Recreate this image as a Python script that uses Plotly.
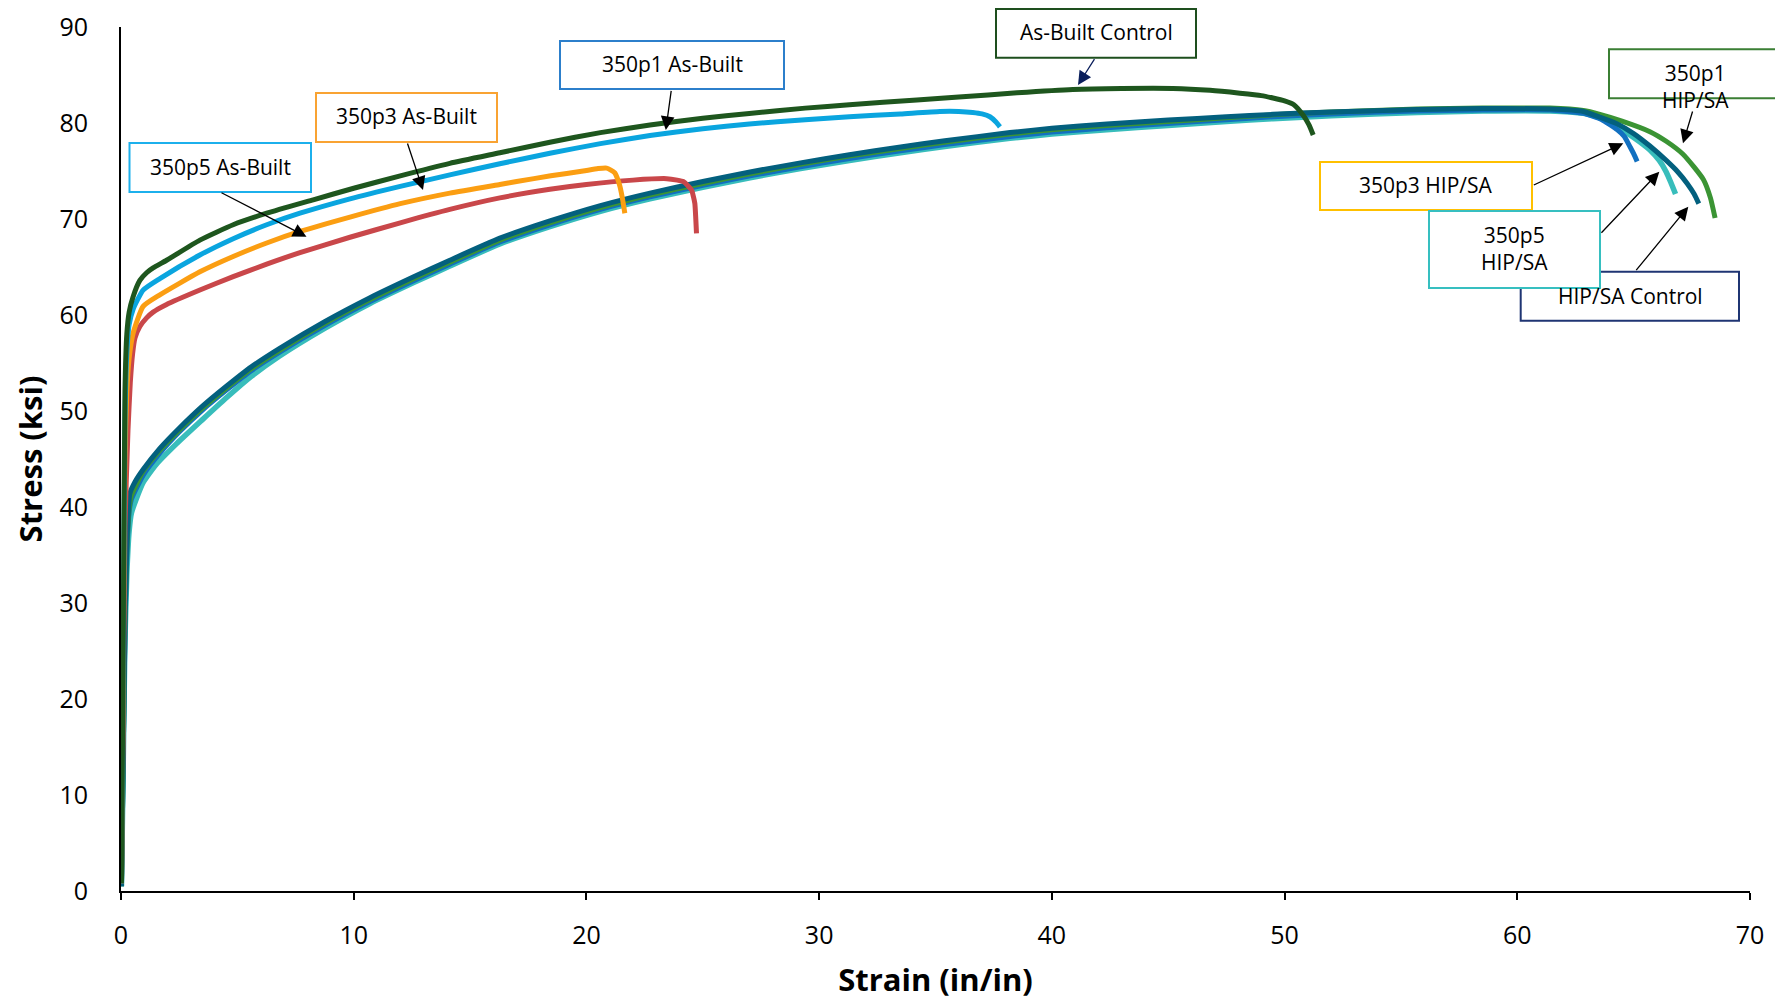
import plotly.graph_objects as go

# ---------------- data (strain in/in x100, stress ksi) ----------------
abc_strain = [0.02, 0.1, 0.17, 0.25, 0.35, 0.52, 0.81, 1.1, 1.38, 1.96, 3.39, 4.82, 6.26, 8.26, 10.0, 12.0,
              14.13, 16.28, 18.43, 20.6, 22.73, 25.0, 27.0, 29.4, 31.3, 34.2, 36.0, 38.5, 40.9, 43.0, 45.2,
              46.8, 48.08, 49.0, 49.5, 50.0, 50.4, 50.8, 51.05, 51.23]
abc_stress = [0.8, 28, 52, 58, 60.3, 61.9, 63.6, 64.4, 64.9, 65.7, 67.8, 69.4, 70.6, 72.0, 73.2, 74.5,
              75.8, 76.9, 78.0, 79.0, 79.8, 80.5, 81.0, 81.55, 81.9, 82.4, 82.7, 83.15, 83.5, 83.6, 83.6,
              83.4, 83.1, 82.85, 82.6, 82.3, 81.9, 80.8, 79.8, 78.75]

p1ab_strain = [0.02, 0.1, 0.17, 0.25, 0.35, 0.52, 0.95, 1.67, 3.39, 4.82, 6.26, 7.69, 9.84, 12.0, 14.13,
               16.28, 18.43, 20.6, 22.73, 25.0, 27.0, 29.4, 31.3, 33.5, 35.19, 36.0, 36.6, 37.0, 37.34,
               37.6, 37.77]
p1ab_stress = [0.8, 26, 49, 56, 59, 60.6, 62.6, 63.8, 66.25, 67.95, 69.4, 70.6, 72.1, 73.4, 74.6,
               75.75, 76.85, 77.85, 78.7, 79.4, 79.9, 80.35, 80.65, 80.95, 81.2, 81.2, 81.1, 80.95, 80.65,
               80.1, 79.6]

p3ab_strain = [0.02, 0.1, 0.17, 0.25, 0.35, 0.52, 0.95, 1.67, 3.39, 4.82, 6.26, 7.69, 9.84, 12.0, 14.13,
               16.28, 17.0, 18.47, 19.86, 20.5, 20.87, 21.05, 21.22, 21.35, 21.44, 21.55, 21.65]
p3ab_stress = [0.8, 24, 45, 52, 55.5, 58.1, 60.9, 62.1, 64.5, 66.1, 67.5, 68.7, 70.2, 71.6, 72.7,
               73.6, 73.9, 74.5, 75.0, 75.25, 75.3, 75.1, 74.8, 74.1, 73.4, 72.1, 70.6]

p5ab_strain = [0.02, 0.1, 0.17, 0.3, 0.4, 0.5, 0.6, 0.81, 1.1, 1.38, 1.96, 3.39, 4.82, 6.26, 7.69, 9.84,
               12.0, 14.13, 16.28, 18.43, 20.0, 22.0, 23.45, 23.9, 24.16, 24.35, 24.52, 24.6, 24.66,
               24.7, 24.73]
p5ab_stress = [0.8, 20, 38, 48, 53, 56, 57.6, 58.8, 59.7, 60.3, 61.1, 62.6, 64.0, 65.3, 66.5, 68.1,
               69.6, 71.0, 72.2, 73.1, 73.6, 74.05, 74.2, 74.05, 73.9, 73.5, 73.0, 72.3, 71.6,
               70.0, 68.5]

hipc_strain = [0.02, 0.1, 0.17, 0.25, 0.32, 0.38, 0.6, 0.95, 1.67, 2.5, 3.5, 4.54, 5.6, 6.8, 8.75, 10.7,
               12.6, 14.13, 16.28, 18.43, 20.6, 22.73, 25.0, 27.03, 29.2, 31.3, 33.5, 35.4, 38.2, 40.0,
               42.36, 45.0, 47.5, 49.5, 52.0, 55.7, 58.5, 61.4, 62.84, 63.55, 64.3, 65.0, 65.7, 66.4,
               66.9, 67.3, 67.6, 67.8]
hipc_stress = [0.5, 15, 28, 36, 39.8, 41.4, 42.6, 43.9, 46.1, 48.2, 50.5, 52.6, 54.6, 56.5, 59.3, 61.8,
               64.0, 65.7, 68.0, 69.8, 71.4, 72.7, 73.9, 74.9, 75.85, 76.7, 77.5, 78.15, 79.0, 79.45,
               79.9, 80.3, 80.65, 80.9, 81.15, 81.4, 81.5, 81.45, 81.2, 80.6, 79.9, 78.9, 77.6, 76.1,
               74.9, 73.7, 72.6, 71.6]

p1hip_strain = [0.02, 0.1, 0.17, 0.25, 0.35, 0.45, 0.95, 1.67, 2.5, 3.5, 4.54, 5.6, 6.8, 8.75, 10.7,
                12.6, 14.13, 16.28, 18.43, 20.6, 22.73, 25.0, 27.03, 29.2, 31.3, 33.5, 35.4, 38.2, 40.0,
                42.36, 45.0, 47.5, 49.5, 52.0, 55.7, 58.5, 61.4, 62.84, 63.55, 64.5, 65.7, 66.4, 67.1,
                67.6, 68.0, 68.3, 68.5]
p1hip_stress = [0.5, 15, 27.5, 35.5, 39.8, 41.2, 43.7, 45.9, 48.0, 50.3, 52.4, 54.4, 56.3, 59.1, 61.6,
                63.8, 65.5, 67.8, 69.6, 71.2, 72.5, 73.7, 74.7, 75.7, 76.55, 77.35, 78.0, 78.85, 79.3,
                79.75, 80.15, 80.55, 80.85, 81.15, 81.45, 81.55, 81.55, 81.3, 80.9, 80.2, 79.1, 78.1,
                76.8, 75.4, 74.1, 72.2, 70.1]

p3hip_strain = [0.02, 0.1, 0.17, 0.25, 0.35, 0.45, 0.95, 1.67, 2.5, 3.5, 4.54, 5.6, 6.8, 8.75, 10.7,
                12.6, 14.13, 16.28, 18.43, 20.6, 22.73, 25.0, 27.03, 29.2, 31.3, 33.5, 35.4, 38.2, 40.0,
                42.36, 45.0, 47.5, 49.5, 52.0, 55.7, 58.5, 61.4, 62.84, 63.6, 64.3, 64.6, 64.85, 65.0,
                65.15]
p3hip_stress = [0.5, 15, 27, 35, 39.5, 40.8, 43.3, 45.6, 47.8, 50.1, 52.2, 54.2, 56.1, 58.9, 61.4,
                63.6, 65.3, 67.6, 69.4, 71.0, 72.3, 73.5, 74.5, 75.45, 76.3, 77.1, 77.75, 78.6, 79.05,
                79.5, 79.95, 80.35, 80.65, 80.95, 81.25, 81.35, 81.35, 81.0, 80.4, 79.3, 78.6, 77.5,
                76.8, 76.0]

p5hip_strain = [0.02, 0.1, 0.17, 0.25, 0.35, 0.45, 0.94, 1.5, 2.39, 3.5, 4.54, 5.6, 6.8, 8.75, 10.7,
                12.6, 14.13, 16.28, 18.43, 20.6, 22.73, 25.0, 27.03, 29.2, 31.3, 33.5, 35.4, 38.2, 40.0,
                42.36, 45.0, 47.5, 49.5, 52.0, 55.7, 58.5, 61.4, 62.84, 63.6, 64.3, 65.0, 65.7, 66.1,
                66.4, 66.6, 66.8]
p5hip_stress = [0.5, 14, 26, 33, 37.5, 39.4, 42.5, 44.4, 46.6, 49.1, 51.4, 53.6, 55.7, 58.6, 61.2,
                63.4, 65.1, 67.4, 69.2, 70.8, 72.1, 73.3, 74.3, 75.25, 76.1, 76.9, 77.55, 78.4, 78.85,
                79.3, 79.75, 80.15, 80.45, 80.75, 81.1, 81.25, 81.25, 81.0, 80.5, 79.6, 78.5, 77.2,
                76.1, 74.9, 73.8, 72.6]

x_ticks = [0, 10, 20, 30, 40, 50, 60, 70]
y_ticks = [0, 10, 20, 30, 40, 50, 60, 70, 80, 90]

# ---------------- layout constants (pixels) ----------------
W_FIG, H_FIG = 1775, 1000
L, R, T, B = 121, 25, 27, 109
PW = W_FIG - L - R
PH = H_FIG - T - B
XMAX, YMAX = 70, 90


def px(fx):
    return (fx - L) / PW


def py(fy):
    return (H_FIG - B - fy) / PH


def dx(fx):
    return (fx - L) / PW * XMAX


def dy(fy):
    return (H_FIG - B - fy) / PH * YMAX


FONT = "Open Sans"

fig = go.Figure()

series = [
    ("350p5 HIP/SA", p5hip_strain, p5hip_stress, "#38BDBB", 5.5),
    ("350p3 HIP/SA", p3hip_strain, p3hip_stress, "#1270C0", 5),
    ("350p1 HIP/SA", p1hip_strain, p1hip_stress, "#3B9434", 5),
    ("HIP/SA Control", hipc_strain, hipc_stress, "#03607E", 5),
    ("350p5 As-Built", p5ab_strain, p5ab_stress, "#C9474A", 5),
    ("350p3 As-Built", p3ab_strain, p3ab_stress, "#FB9E12", 5),
    ("350p1 As-Built", p1ab_strain, p1ab_stress, "#0AA5DF", 5),
    ("As-Built Control", abc_strain, abc_stress, "#1E561E", 5),
]
for name, xs, ys, col, w in series:
    fig.add_trace(go.Scatter(x=xs, y=ys, mode="lines", name=name,
                             line=dict(color=col, width=w, shape="spline", smoothing=0.5),
                             hoverinfo="skip"))

# ---------------- callout boxes ----------------
boxes = [
    # text, x0, y0, x1, y1, border colour, text centre x, text centre y
    ("350p5 As-Built", 129.5, 143, 311, 192, "#1CB0EC", 220, 166.5),
    ("350p3 As-Built", 316, 93, 497, 142, "#F9A332", 406.5, 116.5),
    ("350p1 As-Built", 560, 41, 784, 89, "#2C7FCB", 672, 64),
    ("As-Built Control", 996, 9, 1196, 57.7, "#1E4F1E", 1096, 32.3),
    ("350p1<br>HIP/SA", 1609, 49.3, 1778, 98.3, "#3B7F34", 1695, 86.5),
    ("350p3 HIP/SA", 1320, 162, 1532, 210, "#FFC000", 1426, 185),
    ("HIP/SA Control", 1520.7, 271.7, 1739, 320.7, "#1F3573", 1630, 296),
    ("350p5<br>HIP/SA", 1429, 211, 1600, 288, "#36BFC0", 1514, 248.5),
]

arrows = [
    # tail (px), tip (px), colour
    (220, 192, 306.5, 236.7, "black"),
    (407, 142, 423, 190, "black"),
    (671.4, 89.3, 665.8, 130, "black"),
    (1095.4, 57.7, 1078, 85, "#0B1F5C"),
    (1693, 110, 1683, 143.3, "black"),
    (1532.3, 185.7, 1623.3, 143.3, "black"),
    (1600, 234.3, 1659.3, 171.7, "black"),
    (1635, 271.7, 1688.3, 206.7, "black"),
]

shapes = []
annotations = []
for text, x0, y0, x1, y1, col, tx, ty in boxes:
    shapes.append(dict(type="rect", xref="paper", yref="paper",
                       x0=px(x0), x1=px(x1), y0=py(y1), y1=py(y0),
                       line=dict(color=col, width=2), fillcolor="white", layer="above"))
    annotations.append(dict(text=text, xref="paper", yref="paper", x=px(tx), y=py(ty),
                            xanchor="center", yanchor="middle", showarrow=False,
                            font=dict(family=FONT, size=21, color="black")))

for tx0, ty0, tx1, ty1, col in arrows:
    annotations.append(dict(text="", x=dx(tx1), y=dy(ty1), xref="x", yref="y",
                            ax=dx(tx0), ay=dy(ty0), axref="x", ayref="y",
                            showarrow=True, arrowhead=2, arrowsize=2.1, arrowwidth=1.3,
                            arrowcolor=col, standoff=0, startstandoff=0))

fig.update_layout(
    width=W_FIG, height=H_FIG,
    margin=dict(l=L, r=R, t=T, b=B, pad=0, autoexpand=False),
    paper_bgcolor="white", plot_bgcolor="white",
    showlegend=False,
    shapes=shapes, annotations=annotations,
    font=dict(family=FONT, color="black"),
)
fig.update_xaxes(range=[0, XMAX], tickvals=x_ticks, ticktext=[str(v) for v in x_ticks],
                 automargin=False,
                 showgrid=False, zeroline=False, showline=True, linecolor="black", linewidth=2,
                 ticks="outside", ticklen=7, tickwidth=2, tickcolor="black",
                 ticklabelstandoff=14,
                 tickfont=dict(family=FONT, size=25, color="black"),
                 title=dict(text="<b>Strain (in/in)</b>", standoff=23,
                            font=dict(family=FONT, size=31, color="black")))
fig.update_yaxes(range=[0, YMAX], tickvals=y_ticks, ticktext=[str(v) for v in y_ticks],
                 automargin=False,
                 showgrid=False, zeroline=False, showline=True, linecolor="black", linewidth=2,
                 ticks="", ticklabelstandoff=26,
                 tickfont=dict(family=FONT, size=25, color="black"),
                 title=dict(text="<b>Stress (ksi)</b>", standoff=8,
                            font=dict(family=FONT, size=31, color="black")))

fig.write_html("out.html", config={"displayModeBar": False},
               post_script="document.body.style.margin='0px';")
